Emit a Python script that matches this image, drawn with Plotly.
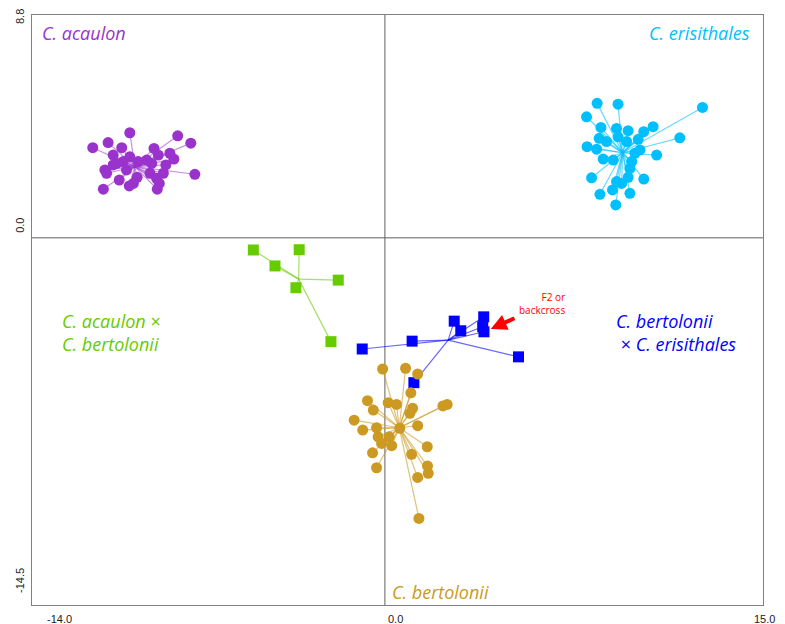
import plotly.graph_objects as go

# ---------------- data (ordination scores) ----------------
acaulon_x = [-10.12, -11.59, -10.98, -10.44, -8.22, -7.70, -9.16, -10.78, -8.37, -8.69, -7.54,
             -11.11, -11.17, -10.54, -10.14, -9.03, -8.95, -9.83, -9.32, -8.79, -8.99, -9.45,
             -10.38, -10.64, -11.04, -10.12, -9.79, -9.25, -10.78, -9.98, -9.06, -10.25, -8.53]
acaulon_y = [4.15, 3.56, 3.76, 3.56, 4.03, 3.74, 3.53, 3.27, 3.11, 2.88, 2.51,
             2.68, 1.92, 2.28, 2.05, 1.92, 2.15, 2.39, 2.55, 2.55, 3.27, 3.07,
             3.01, 2.94, 2.55, 3.20, 3.01, 2.94, 2.88, 2.15, 2.35, 2.68, 3.34]
acaulon_c = (-9.92, 2.81)

erisithales_x = [8.42, 9.25, 12.60, 8.00, 8.57, 9.19, 9.65, 10.64, 10.27, 11.70, 8.50,
                 9.25, 10.05, 8.02, 8.79, 9.59, 8.40, 10.12, 10.78, 9.92, 8.66, 9.06,
                 9.79, 9.72, 8.20, 10.27, 9.65, 9.19, 9.39, 9.03, 8.53, 9.72, 9.16]
erisithales_y = [5.31, 5.28, 5.15, 4.78, 4.36, 4.32, 4.23, 4.39, 4.19, 3.95, 3.93,
                 3.99, 3.89, 3.60, 3.80, 3.80, 3.50, 3.47, 3.27, 3.34, 3.11, 3.07,
                 3.01, 2.74, 2.37, 2.32, 2.39, 2.22, 2.15, 1.89, 1.72, 1.76, 1.30]
erisithales_c = (9.43, 3.36)

hybrid_ab_x = [-5.22, -3.40, -4.36, -1.85, -3.53, -2.14]
hybrid_ab_y = [-0.48, -0.47, -1.11, -1.67, -1.97, -4.10]
hybrid_ab_c = (-3.42, -1.63)

hybrid_be_x = [-0.90, 1.08, 2.75, 3.01, 3.92, 3.88, 3.93, 5.30, 1.15]
hybrid_be_y = [-4.39, -4.08, -3.29, -3.67, -3.12, -3.51, -3.71, -4.70, -5.72]
hybrid_be_c = (2.51, -4.04)

bertolonii_x = [-0.09, 0.82, 1.30, 1.03, -0.69, 0.13, 0.46, 2.47, -0.46, 1.10, 0.99,
                -1.22, 1.30, -0.88, -0.33, -0.27, 0.17, -0.13, 0.27, 1.68, -0.49, 1.06,
                1.69, 1.72, -0.33, 1.30, 1.35, 2.30, 0.59]
bertolonii_y = [-5.18, -5.15, -5.38, -6.12, -6.43, -6.51, -6.58, -6.58, -6.80, -6.73, -6.93,
                -7.20, -7.42, -7.59, -7.50, -7.86, -7.86, -8.12, -8.21, -8.25, -8.49, -8.55,
                -9.01, -9.30, -9.08, -9.46, -11.08, -6.64, -7.52]
bertolonii_c = (0.57, -7.50)

x_ticks = [-14.0, 0.0, 15.0]
x_tick_text = ["-14.0", "0.0", "15.0"]
y_ticks = [8.8, 0.0, -14.5]
y_tick_text = ["8.8", "0.0", "-14.5"]

X_RANGE = [-14.0, 15.0]
Y_RANGE = [-14.5, 8.8]

# ---------------- figure ----------------
fig = go.Figure()

groups = [
    (acaulon_x, acaulon_y, acaulon_c, "#9933CC", "rgba(153,51,204,0.55)", "circle", 11),
    (erisithales_x, erisithales_y, erisithales_c, "#00BFFF", "rgba(0,191,255,0.6)", "circle", 11),
    (hybrid_ab_x, hybrid_ab_y, hybrid_ab_c, "#66CC00", "rgba(102,204,0,0.6)", "square", 11),
    (hybrid_be_x, hybrid_be_y, hybrid_be_c, "#0000FF", "rgba(0,0,255,0.6)", "square", 11),
    (bertolonii_x, bertolonii_y, bertolonii_c, "#CC9922", "rgba(204,153,34,0.6)", "circle", 11),
]

# spider lines first
for xs, ys, c, col, lcol, sym, sz in groups:
    lx, ly = [], []
    for xv, yv in zip(xs, ys):
        lx += [c[0], xv, None]
        ly += [c[1], yv, None]
    fig.add_trace(go.Scatter(x=lx, y=ly, mode="lines",
                             line=dict(color=lcol, width=1.2),
                             hoverinfo="skip", showlegend=False))

for xs, ys, c, col, lcol, sym, sz in groups:
    fig.add_trace(go.Scatter(x=xs, y=ys, mode="markers",
                             marker=dict(color=col, size=sz, symbol=sym, line=dict(width=0)),
                             showlegend=False))

# zero lines
fig.add_shape(type="line", x0=0, x1=0, y0=Y_RANGE[0], y1=Y_RANGE[1], xref="x", yref="y",
              line=dict(color="#606060", width=1), layer="below")
fig.add_shape(type="line", x0=X_RANGE[0], x1=X_RANGE[1], y0=0, y1=0, xref="x", yref="y",
              line=dict(color="#606060", width=1), layer="below")

annotations = []
tick_font = dict(family="Liberation Sans Narrow, Liberation Sans, Arial", size=11, color="#222222")
x_shifts = [13, 1, -11]
for v, t, s in zip(x_ticks, x_tick_text, x_shifts):
    annotations.append(dict(x=v, y=0, xref="x", yref="paper", text=t, showarrow=False,
                            xanchor="left", yanchor="top", xshift=s, yshift=-6, font=tick_font))
y_shifts = [-2, 12, 24]
for v, t, s in zip(y_ticks, y_tick_text, y_shifts):
    annotations.append(dict(x=0, y=v, xref="paper", yref="y", text=t, showarrow=False,
                            textangle=-90, xanchor="center", yanchor="middle",
                            xshift=-12, yshift=s, font=tick_font))

lab_font = "Open Sans, Lato, sans-serif"
def lab(x, y, text, color, anchor="left", size=18):
    return dict(x=x, y=y, xref="x", yref="y", text=text, showarrow=False,
                xanchor=anchor, yanchor="middle",
                font=dict(family=lab_font, size=size, color=color))

annotations += [
    lab(-13.7, 8.1, "<i>C. acaulon</i>", "#9933CC"),
    lab(14.55, 8.1, "<i>C. erisithales</i>", "#00BFFF", anchor="right"),
    lab(-12.9, -3.3, "<i>C. acaulon</i> ×", "#66CC00"),
    lab(-12.9, -4.2, "<i>C. bertolonii</i>", "#66CC00"),
    lab(9.1, -3.3, "<i>C. bertolonii</i>", "#0000FF"),
    lab(9.1, -4.2, " × <i>C. erisithales</i>", "#0000FF"),
    lab(0.2, -14.0, "<i>C. bertolonii</i>", "#CC9922"),
    dict(x=7.22, y=-2.6, xref="x", yref="y", text="F2 or<br>backcross", showarrow=False,
         xanchor="right", yanchor="middle", align="right",
         font=dict(family="Open Sans, sans-serif", size=10, color="#FF0000")),
    dict(x=4.2, y=-3.6, xref="x", yref="y", ax=5.2, ay=-3.15, axref="x", ayref="y",
         text="", showarrow=True, arrowhead=2, arrowsize=0.8, arrowwidth=4,
         arrowcolor="#FF0000"),
]

fig.update_layout(
    width=785, height=624,
    margin=dict(l=24, r=30, t=7, b=27),
    paper_bgcolor="white", plot_bgcolor="white",
    xaxis=dict(range=X_RANGE, showgrid=False, zeroline=False, showticklabels=False,
               ticks="", showline=True, linecolor="#808080", linewidth=1, mirror=True),
    yaxis=dict(range=Y_RANGE, showgrid=False, zeroline=False, showticklabels=False,
               ticks="", showline=True, linecolor="#808080", linewidth=1, mirror=True),
    annotations=annotations,
)

fig.write_html("out.html")
